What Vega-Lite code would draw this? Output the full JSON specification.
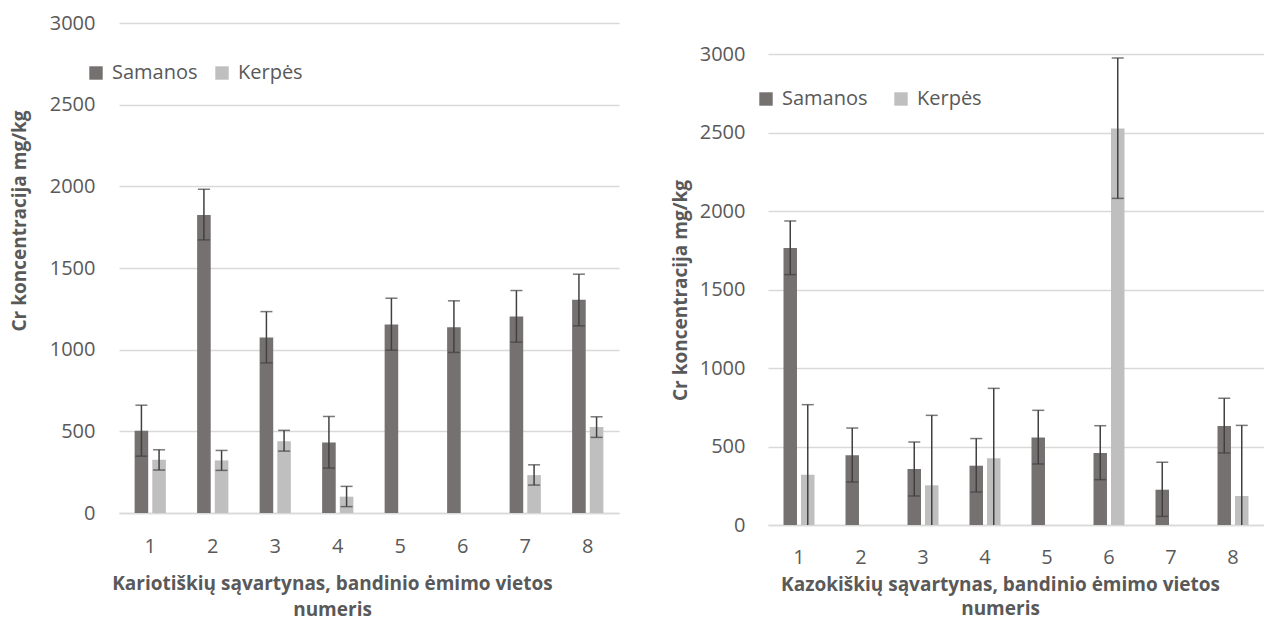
{
  "$schema": "https://vega.github.io/schema/vega-lite/v6.json",
  "padding": {"left": 10, "top": 13, "right": 0, "bottom": 3},
  "background": "white",
  "bounds": "flush",
  "spacing": 149,
  "resolve": {
    "scale": {"x": "independent", "y": "independent", "color": "independent", "xOffset": "independent"},
    "legend": {"color": "independent"},
    "axis": {"x": "independent", "y": "independent"}
  },
  "config": {
    "view": {"stroke": null},
    "font": "Open Sans",
    "axis": {
      "labelFont": "Open Sans", "labelFontSize": 20, "labelColor": "#595959",
      "titleFont": "Open Sans", "titleFontSize": 19, "titleFontWeight": "bold", "titleColor": "#595959",
      "ticks": false, "gridColor": "#D9D9D9", "gridWidth": 1.5
    },
    "legend": {
      "labelFont": "Open Sans", "labelFontSize": 20, "labelColor": "#595959",
      "symbolType": "square", "symbolSize": 180, "symbolStrokeWidth": 0, "labelOffset": 6
    }
  },
  "datasets": {
    "kario": [
      {"site": "1", "series": "Samanos", "value": 503, "lo": 348, "hi": 660},
      {"site": "1", "series": "Kerpės", "value": 326, "lo": 263, "hi": 387},
      {"site": "2", "series": "Samanos", "value": 1824, "lo": 1672, "hi": 1982},
      {"site": "2", "series": "Kerpės", "value": 322, "lo": 261, "hi": 383},
      {"site": "3", "series": "Samanos", "value": 1074, "lo": 919, "hi": 1233},
      {"site": "3", "series": "Kerpės", "value": 440, "lo": 379, "hi": 506},
      {"site": "4", "series": "Samanos", "value": 432, "lo": 275, "hi": 591},
      {"site": "4", "series": "Kerpės", "value": 100, "lo": 39, "hi": 163},
      {"site": "5", "series": "Samanos", "value": 1154, "lo": 997, "hi": 1315},
      {"site": "6", "series": "Samanos", "value": 1138, "lo": 983, "hi": 1299},
      {"site": "7", "series": "Samanos", "value": 1203, "lo": 1046, "hi": 1362},
      {"site": "7", "series": "Kerpės", "value": 232, "lo": 171, "hi": 295},
      {"site": "8", "series": "Samanos", "value": 1305, "lo": 1146, "hi": 1462},
      {"site": "8", "series": "Kerpės", "value": 526, "lo": 463, "hi": 589}
    ],
    "kazok": [
      {"site": "1", "series": "Samanos", "value": 1765, "lo": 1596, "hi": 1938},
      {"site": "1", "series": "Kerpės", "value": 321, "lo": 0, "hi": 767},
      {"site": "2", "series": "Samanos", "value": 444, "lo": 274, "hi": 618},
      {"site": "3", "series": "Samanos", "value": 357, "lo": 185, "hi": 529},
      {"site": "3", "series": "Kerpės", "value": 253, "lo": 0, "hi": 699},
      {"site": "4", "series": "Samanos", "value": 378, "lo": 210, "hi": 551},
      {"site": "4", "series": "Kerpės", "value": 425, "lo": 0, "hi": 871},
      {"site": "5", "series": "Samanos", "value": 557, "lo": 389, "hi": 731},
      {"site": "6", "series": "Samanos", "value": 459, "lo": 289, "hi": 633},
      {"site": "6", "series": "Kerpės", "value": 2528, "lo": 2082, "hi": 2977},
      {"site": "7", "series": "Samanos", "value": 225, "lo": 55, "hi": 400},
      {"site": "8", "series": "Samanos", "value": 631, "lo": 459, "hi": 808},
      {"site": "8", "series": "Kerpės", "value": 185, "lo": 0, "hi": 635}
    ]
  },
  "hconcat": [
    {
      "width": 500,
      "height": 490,
      "data": {"name": "kario"},
      "encoding": {
        "x": {
          "field": "site", "type": "ordinal",
          "scale": {"paddingInner": 0.5, "paddingOuter": 0.25},
          "axis": {
            "title": ["Kariotiškių sąvartynas, bandinio ėmimo vietos", "numeris"],
            "labelAngle": 0, "labelPadding": 23, "titlePadding": 18,
            "titleX": 213, "titleAlign": "center", "titleLineHeight": 26,
            "domainColor": "#D9D9D9", "domainWidth": 1.5, "grid": false
          }
        },
        "xOffset": {
          "field": "series", "type": "nominal",
          "scale": {"domain": ["Samanos", "Kerpės"], "paddingInner": 0.23, "paddingOuter": 0}
        }
      },
      "layer": [
        {
          "mark": {"type": "bar"},
          "encoding": {
            "y": {
              "field": "value", "type": "quantitative", "title": "Cr koncentracija mg/kg",
              "scale": {"domain": [0, 3000], "nice": false},
              "axis": {
                "values": [0, 500, 1000, 1500, 2000, 2500, 3000], "format": "d",
                "labelPadding": 24, "titlePadding": 20, "titleY": 197.5,
                "domain": false, "grid": true
              }
            },
            "color": {
              "field": "series", "type": "nominal",
              "scale": {"domain": ["Samanos", "Kerpės"], "range": ["#767171", "#BFBFBF"]},
              "legend": {"orient": "none", "legendX": -33, "legendY": 40, "direction": "horizontal", "title": null, "columnPadding": 14}
            }
          }
        },
        {
          "mark": {"type": "rule", "color": "#404040", "strokeWidth": 1.5},
          "encoding": {
            "y": {"field": "lo", "type": "quantitative", "title": "Cr koncentracija mg/kg"},
            "y2": {"field": "hi"}
          }
        },
        {
          "mark": {"type": "tick", "color": "#404040", "thickness": 1.5, "size": 12},
          "encoding": {"y": {"field": "hi", "type": "quantitative", "title": "Cr koncentracija mg/kg"}}
        },
        {
          "transform": [{"filter": "datum.lo > 0"}],
          "mark": {"type": "tick", "color": "#404040", "thickness": 1.5, "size": 12},
          "encoding": {"y": {"field": "lo", "type": "quantitative", "title": "Cr koncentracija mg/kg"}}
        }
      ]
    },
    {
      "width": 496,
      "height": 502,
      "data": {"name": "kazok"},
      "encoding": {
        "x": {
          "field": "site", "type": "ordinal",
          "scale": {"domain": ["1","2","3","4","5","6","7","8"], "paddingInner": 0.5, "paddingOuter": 0.25},
          "axis": {
            "title": ["Kazokiškių sąvartynas, bandinio ėmimo vietos", "numeris"],
            "labelAngle": 0, "labelPadding": 22, "titlePadding": 8,
            "titleX": 232, "titleAlign": "center", "titleLineHeight": 24,
            "domainColor": "#D9D9D9", "domainWidth": 1.5, "grid": false
          }
        },
        "xOffset": {
          "field": "series", "type": "nominal",
          "scale": {"domain": ["Samanos", "Kerpės"], "paddingInner": 0.23, "paddingOuter": 0}
        }
      },
      "layer": [
        {
          "mark": {"type": "bar"},
          "encoding": {
            "y": {
              "field": "value", "type": "quantitative", "title": "Cr koncentracija mg/kg",
              "scale": {"domain": [0, 3200], "nice": false},
              "axis": {
                "values": [0, 500, 1000, 1500, 2000, 2500, 3000], "format": "d",
                "labelPadding": 23, "titlePadding": 9, "titleY": 267,
                "domain": false, "grid": true
              }
            },
            "color": {
              "field": "series", "type": "nominal",
              "scale": {"domain": ["Samanos", "Kerpės"], "range": ["#767171", "#BFBFBF"]},
              "legend": {"orient": "none", "legendX": -12, "legendY": 66, "direction": "horizontal", "title": null, "columnPadding": 23}
            }
          }
        },
        {
          "mark": {"type": "rule", "color": "#404040", "strokeWidth": 1.5},
          "encoding": {
            "y": {"field": "lo", "type": "quantitative", "title": "Cr koncentracija mg/kg"},
            "y2": {"field": "hi"}
          }
        },
        {
          "mark": {"type": "tick", "color": "#404040", "thickness": 1.5, "size": 12},
          "encoding": {"y": {"field": "hi", "type": "quantitative", "title": "Cr koncentracija mg/kg"}}
        },
        {
          "transform": [{"filter": "datum.lo > 0"}],
          "mark": {"type": "tick", "color": "#404040", "thickness": 1.5, "size": 12},
          "encoding": {"y": {"field": "lo", "type": "quantitative", "title": "Cr koncentracija mg/kg"}}
        }
      ]
    }
  ]
}
